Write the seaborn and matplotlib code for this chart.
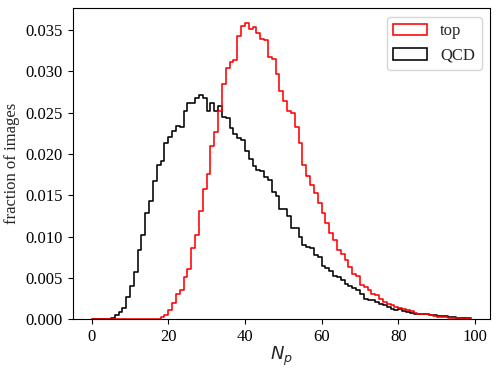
import numpy as np
import pandas as pd
import matplotlib
matplotlib.use("Agg")
import matplotlib.pyplot as plt
from matplotlib.patches import Patch
import seaborn as sns

# bin edges 0..99, width 1 (99 bins)
edges = list(range(0, 100))
centers = [e + 0.5 for e in edges[:-1]]

qcd = [0, 0, 0, 0, 0,
       0.0002, 0.0005, 0.0009, 0.0014, 0.0027,
       0.0040, 0.0057, 0.0084, 0.0102, 0.0129,
       0.0143, 0.0167, 0.0186, 0.0192, 0.0213,
       0.0220, 0.0228, 0.0234, 0.0232, 0.0252,
       0.0261, 0.0261, 0.0268, 0.0271, 0.0267,
       0.0252, 0.0262, 0.0252, 0.0258, 0.0244,
       0.0243, 0.0231, 0.0224, 0.0219, 0.0217,
       0.0204, 0.0194, 0.0185, 0.0180, 0.0179,
       0.0172, 0.0168, 0.0154, 0.0149, 0.0134,
       0.0133, 0.0125, 0.0111, 0.0110, 0.0100,
       0.0090, 0.0088, 0.0086, 0.0078, 0.0076,
       0.0064, 0.0062, 0.0059, 0.0053, 0.0051,
       0.0048, 0.0043, 0.0040, 0.0038, 0.0035,
       0.0031, 0.0025, 0.0024, 0.0023, 0.0021,
       0.0019, 0.0017, 0.0015, 0.0012, 0.0011,
       0.0013, 0.0010, 0.0009, 0.0008, 0.0007,
       0.0007, 0.0006, 0.0006, 0.0005, 0.0005,
       0.0004, 0.0004, 0.0004, 0.0003, 0.0003,
       0.0002, 0.0002, 0.0002, 0.0002]

top = [0] * 17 + [
       0.0001, 0.0003, 0.0005,
       0.0011, 0.0020, 0.0031, 0.0036, 0.0051,
       0.0061, 0.0086, 0.0102, 0.0131, 0.0157,
       0.0176, 0.0210, 0.0226, 0.0252, 0.0284,
       0.0304, 0.0311, 0.0313, 0.0342, 0.0354,
       0.0358, 0.0351, 0.0353, 0.0346, 0.0339,
       0.0338, 0.0317, 0.0315, 0.0296, 0.0276,
       0.0264, 0.0252, 0.0250, 0.0232, 0.0213,
       0.0186, 0.0173, 0.0163, 0.0153, 0.0141,
       0.0128, 0.0117, 0.0104, 0.0096, 0.0084,
       0.0079, 0.0072, 0.0063, 0.0055, 0.0053,
       0.0041, 0.0039, 0.0035, 0.0031, 0.0029,
       0.0025, 0.0021, 0.0019, 0.0017, 0.0015,
       0.0014, 0.0013, 0.0011, 0.0010, 0.0008,
       0.0007, 0.0006, 0.0006, 0.0005, 0.0004,
       0.0003, 0.0003, 0.0003, 0.0002, 0.0002,
       0.0002, 0.0001, 0.0001, 0.0002]

labels = ["top", "QCD"]
colors = {"top": "red", "QCD": "black"}

df = pd.concat([
    pd.DataFrame({"Np": centers, "frac": top, "label": "top"}),
    pd.DataFrame({"Np": centers, "frac": qcd, "label": "QCD"}),
], ignore_index=True)

sns.set_style("ticks")
plt.rcParams["font.family"] = ["Liberation Serif", "DejaVu Serif"]
plt.rcParams["mathtext.fontset"] = "dejavusans"

fig = plt.figure(figsize=(4.98, 3.74), dpi=100)
ax = fig.add_axes([0.146, 0.146, 0.838, 0.832])

sns.histplot(data=df, x="Np", weights="frac", hue="label", hue_order=labels,
             bins=edges, element="step", fill=False, palette=colors,
             linewidth=1.15, alpha=1.0, legend=False, ax=ax)

ax.set_xlim(-4.95, 103.95)
ax.set_ylim(0, 0.0376)
ax.set_xticks([0, 20, 40, 60, 80, 100])
ax.set_yticks([0, 0.005, 0.010, 0.015, 0.020, 0.025, 0.030, 0.035])
ax.yaxis.set_major_formatter(matplotlib.ticker.FormatStrFormatter("%.3f"))
ax.tick_params(labelsize=12, direction="out", length=3.5, width=0.8, colors="black")
for s in ax.spines.values():
    s.set_visible(True)
    s.set_linewidth(0.8)
    s.set_color("black")

ax.set_xlabel(r"$N_p$", fontsize=13, labelpad=0)
ax.set_ylabel("fraction of images", fontsize=12)

handles = [Patch(facecolor="none", edgecolor=colors[l], linewidth=1.15, label=l) for l in labels]
ax.legend(handles=handles, loc="upper right", fontsize=12, frameon=True,
          fancybox=True, framealpha=0.8, edgecolor="#cccccc")

fig.savefig("out.png", dpi=100)
